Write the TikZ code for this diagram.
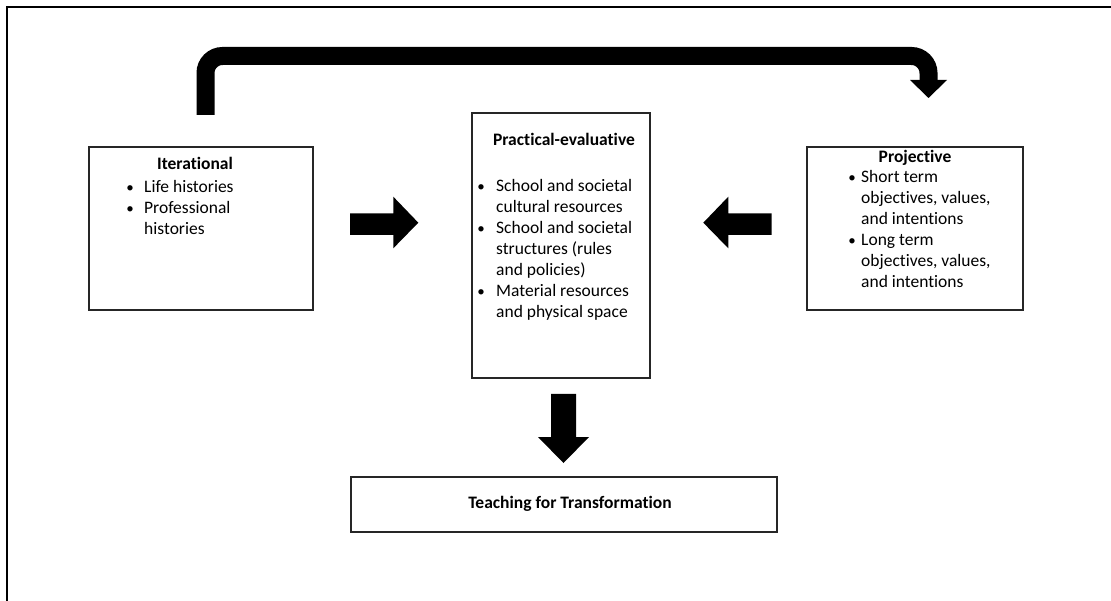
\documentclass[tikz,border=0pt]{standalone}
\usepackage{fontspec}
\setmainfont{Carlito}[Ligatures=NoCommon]
\begin{document}
\begin{tikzpicture}[x=1pt,y=-1pt,
  box/.style={draw=black!85,line width=1.6pt,inner sep=0pt},
  txt/.style={font=\fontsize{17.5}{21}\selectfont,inner sep=0pt,align=left,anchor=base west},
  ttl/.style={font=\fontsize{17.5}{21}\selectfont\bfseries,inner sep=0pt,anchor=base},
  bul/.style={font=\fontsize{15}{21}\selectfont,inner sep=0pt,anchor=base},
  blk/.style={fill=black,draw=none}]
\useasboundingbox (0,0) rectangle (1111,601);
% outer frame (top and left edges)
\draw[line width=2pt] (7,601) -- (7,7) -- (1111,7);

% boxes
\node[box,minimum width=224,minimum height=163] (it) at (201,228.5) {};
\node[box,minimum width=178,minimum height=265] (pe) at (561,245.5) {};
\node[box,minimum width=216,minimum height=163] (pr) at (915,228.5) {};
\node[box,minimum width=426,minimum height=55] (tt) at (564,504.5) {};

% Iterational (base anchor = last line)
\node[ttl] (itT) at (195,170) {Iterational};
\node[bul] (itb1) at (130,193) {•};
\node[bul] (itb2) at (130,214) {•};
\node[txt] (itL) at (144,235) {Life histories\\Professional\\histories};

% Practical-evaluative
\node[ttl] (peT) at (564,146) {Practical-evaluative};
\node[bul] (peb1) at (481,192) {•};
\node[bul] (peb2) at (481,234) {•};
\node[bul] (peb3) at (481,297) {•};
\node[txt] (peL) at (496,318) {School and societal\\cultural resources\\School and societal\\structures (rules\\and policies)\\Material resources\\and physical space};

% Projective
\node[ttl] (prT) at (915,163) {Projective};
\node[bul] (prb1) at (852,183) {•};
\node[bul] (prb2) at (852,246) {•};
\node[txt] (prL) at (861,288) {Short term\\objectives, values,\\and intentions\\Long term\\objectives, values,\\and intentions};

% Teaching
\node[ttl] (ttT) at (570,508) {Teaching for Transformation};

% block arrows
\fill[blk] (350,213.3) -- (393.3,213.3) -- (393.3,196.7) -- (418.3,222.7)
  -- (393.3,248.3) -- (393.3,235) -- (350,235) -- cycle;
\fill[blk] (771.7,213.3) -- (728.3,213.3) -- (728.3,196.7) -- (703.3,222.7)
  -- (728.3,248.3) -- (728.3,235) -- (771.7,235) -- cycle;
\fill[blk] (551,394) -- (576,394) -- (576,437) -- (589,437) -- (563.5,463)
  -- (538,437) -- (551,437) -- cycle;

% curved arrow
\coordinate (cs) at (205.5,115);
\coordinate (ce) at (928.5,80);
\draw[line width=18pt,rounded corners=17pt] (cs) -- (205.5,56) -- (928.5,56) -- (ce);
\fill[blk] (910,80) -- (947,80) -- (928.5,98) -- cycle;
\end{tikzpicture}
\end{document}
